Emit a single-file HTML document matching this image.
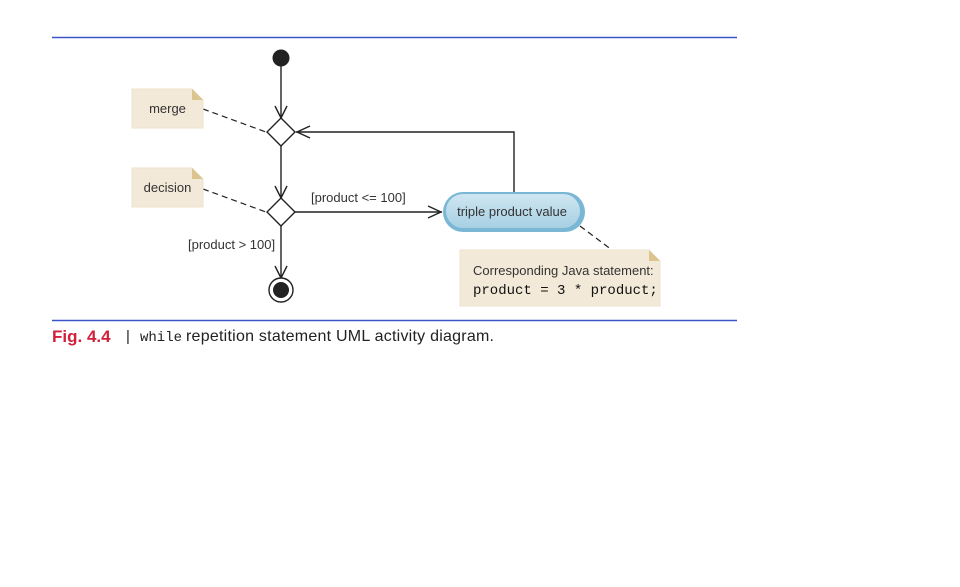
<!DOCTYPE html>
<html><head><style>
body{margin:0;background:#fff;width:960px;height:582px;overflow:hidden}
</style></head><body>
<svg width="960" height="582" xmlns="http://www.w3.org/2000/svg" font-family="Liberation Sans, sans-serif">
<defs>
<linearGradient id="g" x1="0" y1="0" x2="0" y2="1"><stop offset="0" stop-color="#cfe6f1"/><stop offset="1" stop-color="#a7d0e3"/></linearGradient>
</defs>
<line x1="52" y1="37.5" x2="737" y2="37.5" stroke="#3a55c8" stroke-width="1.5"/>
<line x1="52" y1="320.5" x2="737" y2="320.5" stroke="#3a55c8" stroke-width="1.5"/>
<g stroke="#222" stroke-width="1.4" fill="none">
<line x1="281" y1="58" x2="281" y2="118"/>
<polyline points="275,106 281,118 287,106"/>
<line x1="281" y1="146" x2="281" y2="198"/>
<polyline points="275,186 281,198 287,186"/>
<line x1="281" y1="226" x2="281" y2="278"/>
<polyline points="275,266 281,278 287,266"/>
<line x1="295" y1="212" x2="442" y2="212"/>
<polyline points="428,206 441,212 428,218"/>
<polyline points="514,192 514,132 296,132"/>
<polyline points="310,126 297,132 310,138"/>
<polygon points="281,118 295,132 281,146 267,132" fill="#fff"/>
<polygon points="281,198 295,212 281,226 267,212" fill="#fff"/>
<g stroke-dasharray="6,4" stroke-width="1.2">
<line x1="203" y1="109" x2="266" y2="132"/>
<line x1="203" y1="189" x2="266" y2="212"/>
<line x1="580" y1="226" x2="612" y2="250"/>
</g>
</g>
<circle cx="281" cy="58" r="8.5" fill="#222"/>
<circle cx="281" cy="290" r="12" fill="#fff" stroke="#222" stroke-width="1.4"/>
<circle cx="281" cy="290" r="8" fill="#222"/>
<polygon points="132,89 192,89 203,100 203,128 132,128" fill="#f3e9d8" stroke="#efe2cc"/>
<polygon points="192,89 203,100 192,100" fill="#dcc48f"/>
<polygon points="132,168 192,168 203,179 203,207 132,207" fill="#f3e9d8" stroke="#efe2cc"/>
<polygon points="192,168 203,179 192,179" fill="#dcc48f"/>
<polygon points="460,250 649,250 660,261 660,306 460,306" fill="#f3e9d8" stroke="#efe2cc"/>
<polygon points="649,250 660,261 649,261" fill="#dcc48f"/>
<rect x="443" y="192" width="142" height="40" rx="20" fill="#7ab7d4"/>
<rect x="446" y="194" width="134" height="34" rx="17" fill="url(#g)"/>
<g fill="#333" font-size="13">
<text x="167.5" y="113" text-anchor="middle">merge</text>
<text x="167.5" y="192" text-anchor="middle">decision</text>
<text x="311" y="202">[product &lt;= 100]</text>
<text x="188" y="249">[product &gt; 100]</text>
<text x="512" y="216" text-anchor="middle">triple product value</text>
<text x="473" y="275">Corresponding Java statement:</text>
<text x="473" y="294" font-size="14" font-family="Liberation Mono, monospace" fill="#111">product = 3 * product;</text>
</g>
<text x="52" y="342" font-size="17" font-weight="bold" fill="#d0203a">Fig. 4.4</text>
<text x="126" y="341" font-size="15" fill="#222">|</text>
<text x="140" y="341" font-size="14" font-family="Liberation Mono, monospace" fill="#222">while</text>
<text x="186" y="341" font-size="16" fill="#222" textLength="308">repetition statement UML activity diagram.</text>
</svg>
</body></html>
